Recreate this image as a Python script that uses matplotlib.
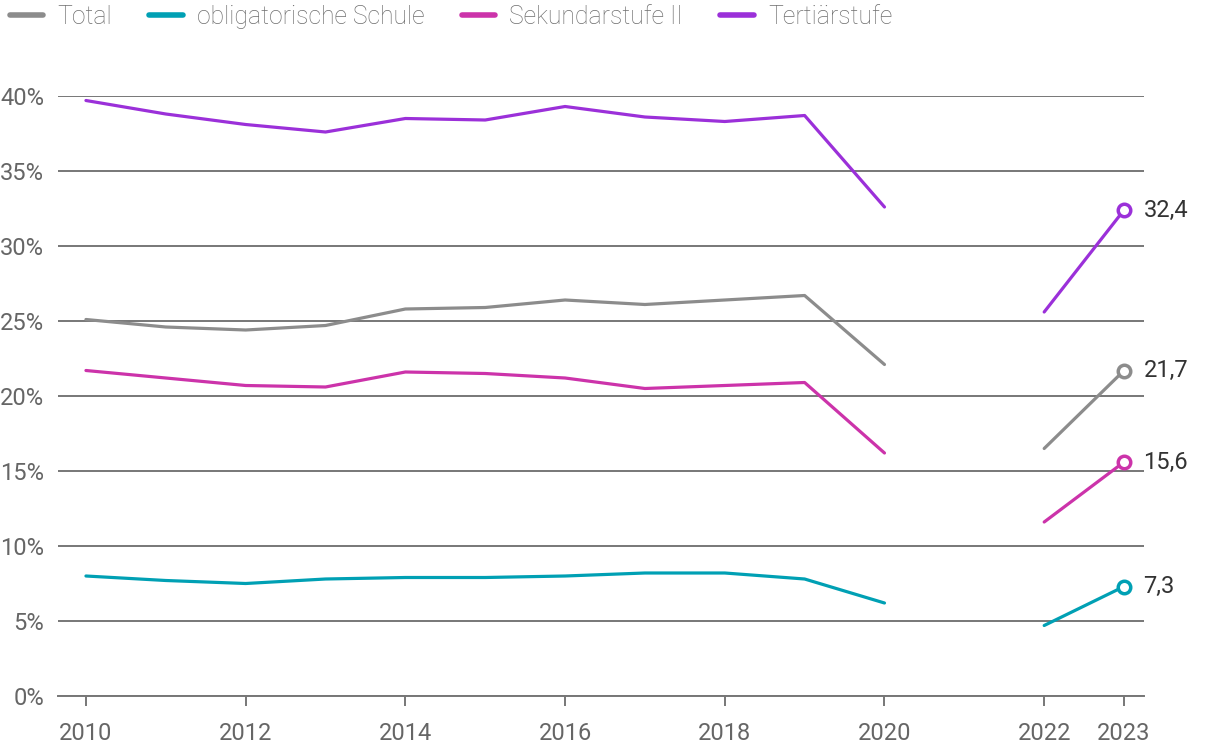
import numpy as np
from matplotlib import pyplot as plt
from matplotlib.ticker import FuncFormatter

plt.rcParams['font.family'] = ['Roboto', 'DejaVu Sans']

# Years (2021 has no value -> gap)
years = [2010, 2011, 2012, 2013, 2014, 2015, 2016, 2017, 2018, 2019, 2020, 2021, 2022, 2023]
nan = np.nan

total = [25.1, 24.6, 24.4, 24.7, 25.8, 25.9, 26.4, 26.1, 26.4, 26.7, 22.1, nan, 16.5, 21.7]
obligatorisch = [8.0, 7.7, 7.5, 7.8, 7.9, 7.9, 8.0, 8.2, 8.2, 7.8, 6.2, nan, 4.7, 7.3]
sekundar = [21.7, 21.2, 20.7, 20.6, 21.6, 21.5, 21.2, 20.5, 20.7, 20.9, 16.2, nan, 11.6, 15.6]
tertiar = [39.7, 38.8, 38.1, 37.6, 38.5, 38.4, 39.3, 38.6, 38.3, 38.7, 32.6, nan, 25.6, 32.4]

labels = ['Total', 'obligatorische Schule', 'Sekundarstufe II', 'Tertiärstufe']
colors = ['#8c8c8c', '#00a0b4', '#cc33aa', '#9b30d9']
series = [total, obligatorisch, sekundar, tertiar]

x_ticks = [2010, 2012, 2014, 2016, 2018, 2020, 2022, 2023]
y_ticks = [0, 5, 10, 15, 20, 25, 30, 35, 40]

fig = plt.figure(figsize=(12.2, 7.56), dpi=100)
ax = fig.add_axes([58 / 1220, 60 / 756, (1144 - 58) / 1220, 600 / 756])

for vals, lab, col in zip(series, labels, colors):
    ax.plot(years, vals, color=col, lw=2.3, label=lab, solid_capstyle='round', zorder=3)
    ax.plot(years[-1], vals[-1], 'o', ms=9, mfc='white', mec=col, mew=2.5, zorder=4)
    ax.annotate(f'{vals[-1]:.1f}'.replace('.', ','), (years[-1], vals[-1]),
                xytext=(14, 0), textcoords='offset points', va='center', ha='left',
                fontsize=17, color='#333333', annotation_clip=False)

ax.set_xlim(2009.65, 2023.25)
ax.set_ylim(0, 40)
ax.set_xticks(x_ticks)
ax.set_yticks(y_ticks)
ax.yaxis.set_major_formatter(FuncFormatter(lambda v, p: f'{int(v)}%'))
ax.grid(axis='y', color='#777777', lw=1.4)
ax.set_axisbelow(True)
for s in ['top', 'right', 'left']:
    ax.spines[s].set_visible(False)
ax.spines['bottom'].set_color('#777777')
ax.spines['bottom'].set_linewidth(1.4)
ax.tick_params(axis='y', length=0, pad=10, labelsize=17, labelcolor='#666666')
ax.tick_params(axis='x', length=7, width=1.4, color='#777777', pad=12,
               labelsize=17, labelcolor='#666666')

leg = fig.legend(loc='center left', bbox_to_anchor=(0.0, 1 - 17 / 756), ncol=4, frameon=False,
                 labelcolor='#6e6e6e', handlelength=1.35, handletextpad=0.58,
                 columnspacing=1.5, borderaxespad=0, borderpad=0.4,
                 prop={'weight': 'light', 'size': 17.8})
for h in leg.get_lines():
    h.set_linewidth(4)

fig.savefig('out.png', dpi=100)
